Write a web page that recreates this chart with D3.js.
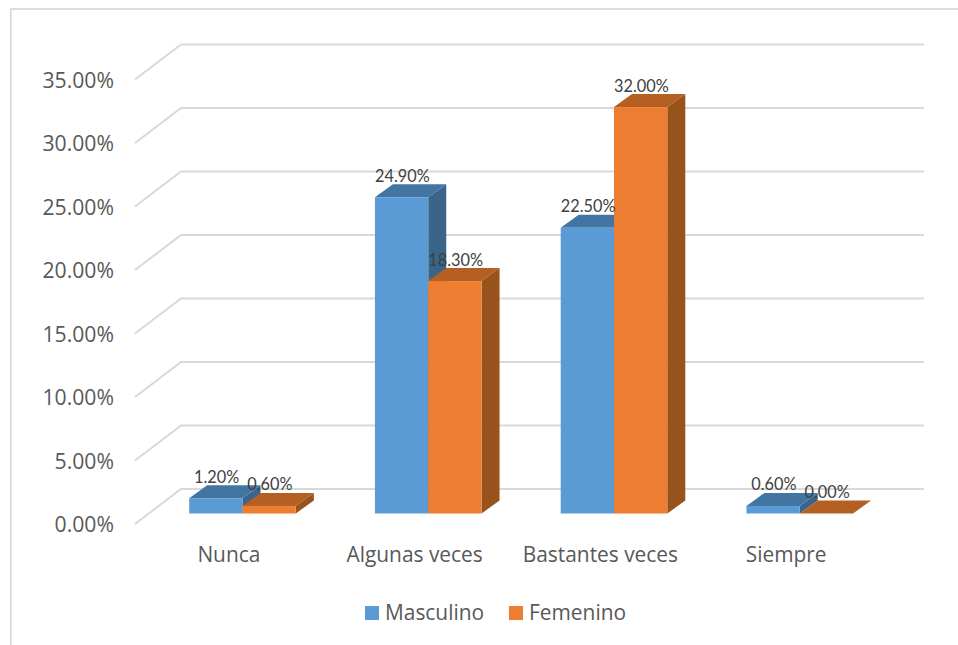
<!DOCTYPE html>
<html>
<head>
<meta charset="utf-8">
<script src="https://cdn.jsdelivr.net/npm/d3@7"></script>
<style>
  html, body { margin: 0; padding: 0; background: #fff; }
  svg { display: block; }
</style>
</head>
<body>
<div id="chart"></div>
<script>
var categories = ["Nunca", "Algunas veces", "Bastantes veces", "Siempre"];
var seriesNames = ["Masculino", "Femenino"];
var masculino = [1.2, 24.9, 22.5, 0.6];
var femenino = [0.6, 18.3, 32.0, 0.0];
var yTicks = [0, 5, 10, 15, 20, 25, 30, 35];

var width = 958, height = 645;
var depthX = 46, depthY = 35;     // wall offset of the 3d box
var barDepthX = 18, barDepthY = 13;
var barStartX = 14, barStartY = 10.5;

var colors = {
  Masculino: { front: "#5b9bd5", top: "#4375a3", side: "#3a6489" },
  Femenino: { front: "#ed7d31", top: "#b55f23", side: "#98531d" }
};

var svg = d3.select("#chart").append("svg")
  .attr("width", width)
  .attr("height", height);

svg.append("rect").attr("width", width).attr("height", height).attr("fill", "#fff");

// chart frame, cut off at the right and bottom of the picture
svg.append("path")
  .attr("d", "M10.8,645V9H958")
  .attr("fill", "none")
  .attr("stroke", "#dcdcdc")
  .attr("stroke-width", 1.8);

var x0 = d3.scaleBand().domain(categories).range([135, 878]);
var y = d3.scaleLinear().domain([0, 35]).range([524, 79.5]);
var barW = 53.3;

// gridlines: slanted part on the floor side plus the back wall
var grid = svg.append("g");
yTicks.forEach(function (t) {
  grid.append("path")
    .attr("d", "M135," + y(t) + "L" + (135 + depthX) + "," + (y(t) - depthY) + "H" + (878 + depthX))
    .attr("fill", "none")
    .attr("stroke", "#d9d9d9")
    .attr("stroke-width", 2);
});

// y labels
svg.append("g").selectAll("text")
  .data(yTicks)
  .enter()
  .append("text")
  .attr("x", 114)
  .attr("y", function (d) { return y(d) + 8; })
  .attr("text-anchor", "end")
  .attr("font-family", "'Open Sans'")
  .attr("font-size", 21.2)
  .attr("fill", "#595959")
  .text(function (d) { return d3.format(".2f")(d) + "%"; });

function drawBar(parent, left, value, c) {
  var right = left + barW;
  var bottom = y(0) - barStartY;
  var top = y(value) - barStartY;
  parent.append("path")
    .attr("d", "M" + right + "," + bottom + "V" + top + "l" + barDepthX + "," + (-barDepthY) + "V" + (bottom - barDepthY) + "Z")
    .attr("fill", c.side);
  parent.append("path")
    .attr("d", "M" + left + "," + top + "H" + right + "l" + barDepthX + "," + (-barDepthY) + "H" + (left + barDepthX) + "Z")
    .attr("fill", c.top);
  parent.append("rect")
    .attr("x", left)
    .attr("y", top)
    .attr("width", barW)
    .attr("height", bottom - top)
    .attr("fill", c.front);
}

var bars = svg.append("g");
var labels = [];
categories.forEach(function (cat, i) {
  var groupLeft = x0(cat) + 54.2;
  [masculino, femenino].forEach(function (values, s) {
    var left = groupLeft + s * barW;
    drawBar(bars, left, values[i], colors[seriesNames[s]]);
    labels.push({ x: left + barW / 2 + 0.8, y: y(values[i]) - barStartY - 15.5, v: values[i] });
  });
});

// data labels go on top of all bars
svg.append("g").selectAll("text")
  .data(labels)
  .enter()
  .append("text")
  .attr("x", function (d) { return d.x; })
  .attr("y", function (d) { return d.y; })
  .attr("text-anchor", "middle")
  .attr("font-family", "Lato")
  .attr("font-size", 16.3)
  .attr("fill", "#404040")
  .text(function (d) { return d3.format(".2f")(d.v) + "%"; });

// category labels
svg.append("g").selectAll("text")
  .data(categories)
  .enter()
  .append("text")
  .attr("x", function (d) { return x0(d) + x0.bandwidth() / 2 + 1; })
  .attr("y", 562)
  .attr("text-anchor", "middle")
  .attr("font-family", "'Open Sans'")
  .attr("font-size", 20.9)
  .attr("fill", "#595959")
  .text(function (d) { return d; });

// legend
var legendX = [365, 509];
var legend = svg.append("g");
seriesNames.forEach(function (name, i) {
  legend.append("rect")
    .attr("x", legendX[i])
    .attr("y", 606)
    .attr("width", 14)
    .attr("height", 14)
    .attr("fill", colors[name].front);
  legend.append("text")
    .attr("x", legendX[i] + 20)
    .attr("y", 620)
    .attr("font-family", "'Open Sans'")
    .attr("font-size", 20.9)
    .attr("fill", "#595959")
    .text(name);
});
</script>
</body>
</html>
